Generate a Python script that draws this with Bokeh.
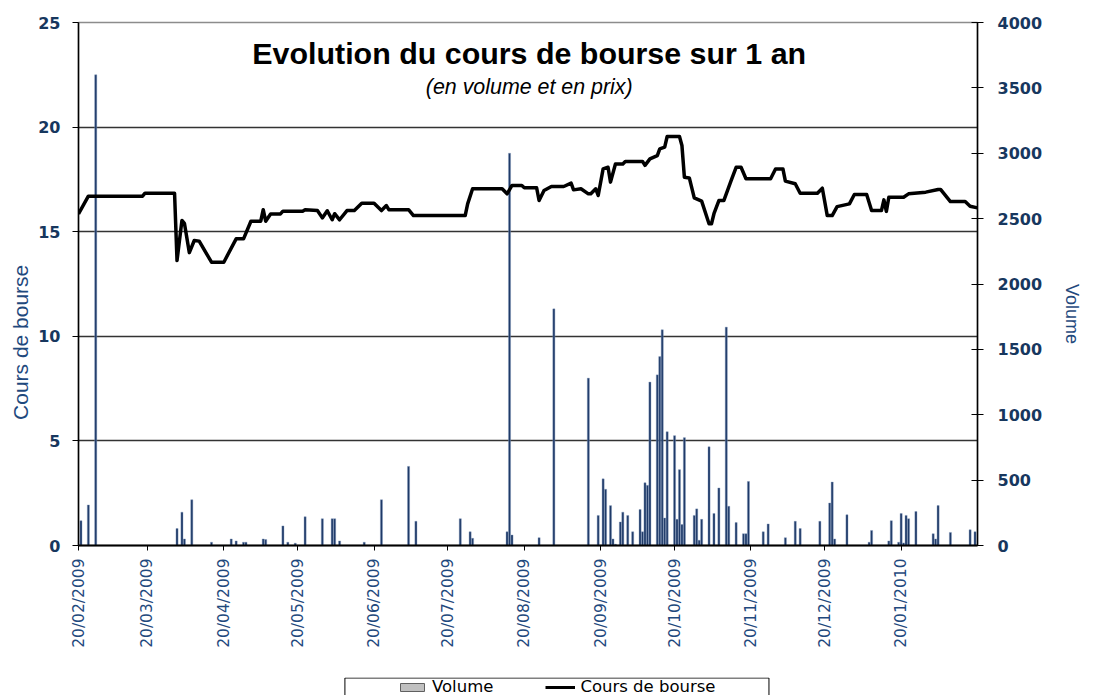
import math
import pandas as pd
from bokeh.plotting import figure
from bokeh.layouts import column
from bokeh.models import (Range1d, LinearAxis, FixedTicker, DatetimeTickFormatter,
                          Legend, LegendItem, Label, ColumnDataSource)
from bokeh.embed import file_html
from bokeh.resources import INLINE

# ---------------- data ----------------
price_dates = [
    "2009-02-20", "2009-02-24", "2009-03-18", "2009-03-19", "2009-03-31", "2009-04-01",
    "2009-04-03", "2009-04-04", "2009-04-06", "2009-04-08", "2009-04-10", "2009-04-15",
    "2009-04-20", "2009-04-25", "2009-04-28", "2009-05-01", "2009-05-05", "2009-05-06",
    "2009-05-07", "2009-05-09", "2009-05-13", "2009-05-14", "2009-05-22", "2009-05-23",
    "2009-05-28", "2009-05-30", "2009-06-01", "2009-06-03", "2009-06-04", "2009-06-06",
    "2009-06-09", "2009-06-12", "2009-06-15", "2009-06-20", "2009-06-23", "2009-06-25",
    "2009-06-26", "2009-07-04", "2009-07-06", "2009-07-27", "2009-07-28", "2009-07-30",
    "2009-08-11", "2009-08-13", "2009-08-15", "2009-08-19", "2009-08-20", "2009-08-25",
    "2009-08-26", "2009-08-28", "2009-08-31", "2009-09-05", "2009-09-08", "2009-09-09",
    "2009-09-12", "2009-09-15", "2009-09-16", "2009-09-18", "2009-09-19", "2009-09-21",
    "2009-09-23", "2009-09-24", "2009-09-26", "2009-09-29", "2009-09-30", "2009-10-07",
    "2009-10-08", "2009-10-10", "2009-10-13", "2009-10-14", "2009-10-16", "2009-10-17",
    "2009-10-22", "2009-10-23", "2009-10-24", "2009-10-26", "2009-10-28", "2009-10-31",
    "2009-11-03", "2009-11-04", "2009-11-05", "2009-11-07", "2009-11-09", "2009-11-12",
    "2009-11-14", "2009-11-16", "2009-11-18", "2009-11-28", "2009-11-30", "2009-12-03",
    "2009-12-04", "2009-12-08", "2009-12-10", "2009-12-17", "2009-12-19", "2009-12-21",
    "2009-12-23", "2009-12-25", "2009-12-30", "2010-01-01", "2010-01-06", "2010-01-08",
    "2010-01-12", "2010-01-13", "2010-01-14", "2010-01-15", "2010-01-21", "2010-01-23",
    "2010-01-30", "2010-02-04", "2010-02-05", "2010-02-09", "2010-02-15", "2010-02-17",
    "2010-02-20",
]
price_values = [
    15.85, 16.70, 16.70, 16.84, 16.84, 13.62,
    15.54, 15.40, 14.00, 14.58, 14.55, 13.54,
    13.54, 14.66, 14.66, 15.50, 15.50, 16.05,
    15.50, 15.85, 15.85, 15.98, 15.98, 16.05,
    16.01, 15.66, 16.00, 15.57, 15.86, 15.57,
    16.01, 16.01, 16.36, 16.36, 16.01, 16.25,
    16.05, 16.05, 15.77, 15.77, 16.33, 17.05,
    17.05, 16.81, 17.21, 17.21, 17.10, 17.10,
    16.49, 16.97, 17.16, 17.16, 17.32, 17.00,
    17.05, 16.81, 16.81, 17.05, 16.73, 18.00,
    18.08, 17.37, 18.24, 18.24, 18.36, 18.36,
    18.17, 18.48, 18.64, 18.96, 19.04, 19.55,
    19.55, 19.12, 17.60, 17.57, 16.62, 16.46,
    15.38, 15.38, 15.86, 16.49, 16.49, 17.45,
    18.08, 18.08, 17.53, 17.53, 18.00, 18.00,
    17.42, 17.29, 16.84, 16.84, 17.08, 15.77,
    15.77, 16.20, 16.33, 16.78, 16.78, 16.01,
    16.01, 16.52, 15.97, 16.65, 16.65, 16.81,
    16.89, 17.02, 17.02, 16.44, 16.44, 16.22,
    16.14,
]

volume_dates = [
    "2009-02-21", "2009-02-24", "2009-02-27", "2009-04-01", "2009-04-03", "2009-04-04",
    "2009-04-07", "2009-04-15", "2009-04-23", "2009-04-25", "2009-04-28", "2009-04-29",
    "2009-05-06", "2009-05-07", "2009-05-14", "2009-05-16", "2009-05-19", "2009-05-23",
    "2009-05-30", "2009-06-03", "2009-06-04", "2009-06-06", "2009-06-16", "2009-06-23",
    "2009-07-04", "2009-07-07", "2009-07-25", "2009-07-29", "2009-07-30", "2009-08-13",
    "2009-08-14", "2009-08-15", "2009-08-26", "2009-09-01", "2009-09-15", "2009-09-19",
    "2009-09-21", "2009-09-22", "2009-09-24", "2009-09-25", "2009-09-26", "2009-09-28",
    "2009-09-29", "2009-10-01", "2009-10-03", "2009-10-06", "2009-10-07", "2009-10-08",
    "2009-10-09", "2009-10-10", "2009-10-13", "2009-10-14", "2009-10-15", "2009-10-16",
    "2009-10-17", "2009-10-20", "2009-10-21", "2009-10-22", "2009-10-23", "2009-10-24",
    "2009-10-28", "2009-10-29", "2009-10-30", "2009-10-31", "2009-11-03", "2009-11-05",
    "2009-11-07", "2009-11-10", "2009-11-11", "2009-11-14", "2009-11-17", "2009-11-18",
    "2009-11-19", "2009-11-25", "2009-11-27", "2009-12-04", "2009-12-08", "2009-12-10",
    "2009-12-18", "2009-12-22", "2009-12-23", "2009-12-24", "2009-12-29", "2010-01-07",
    "2010-01-08", "2010-01-15", "2010-01-16", "2010-01-19", "2010-01-20", "2010-01-21",
    "2010-01-22", "2010-01-23", "2010-01-26", "2010-02-02", "2010-02-03", "2010-02-04",
    "2010-02-09", "2010-02-17", "2010-02-19",
]
volume_values = [
    190, 310, 3600, 130, 255, 50,
    350, 25, 50, 35, 25, 25,
    50, 45, 150, 25, 18, 220,
    205, 205, 205, 35, 25, 350,
    605, 185, 205, 105, 55, 105,
    3000, 80, 60, 1810, 1280, 230,
    510, 430, 305, 50, 10, 180,
    255, 230, 105, 275, 105, 480,
    460, 1250, 1305, 1445, 1650, 210,
    870, 840, 200, 580, 160, 825,
    230, 280, 40, 200, 755, 245,
    440, 1670, 300, 175, 90, 90,
    490, 105, 165, 60, 185, 130,
    185, 325, 485, 50, 235, 25,
    115, 35, 190, 25, 245, 20,
    230, 205, 260, 90, 50, 305,
    100, 120, 105,
]

tick_dates = ["2009-02-20", "2009-03-20", "2009-04-20", "2009-05-20", "2009-06-20",
              "2009-07-20", "2009-08-20", "2009-09-20", "2009-10-20", "2009-11-20",
              "2009-12-20", "2010-01-20"]
price_ticks = [0, 5, 10, 15, 20, 25]
volume_ticks = [0, 500, 1000, 1500, 2000, 2500, 3000, 3500, 4000]

title_text = "Evolution du cours de bourse sur 1 an"
subtitle_text = "(en volume et en prix)"
left_title = "Cours de bourse"
right_title = "Volume"
legend_labels = ["Volume", "Cours de bourse"]


def ms(d):
    return pd.Timestamp(d).value / 1e6


DAY = 86400000.0
TICK_BLUE = "#17375E"
LABEL_BLUE = "#1F497D"
NBSP = "\u00a0"
BORDER_L, BORDER_R = 78, 116

p = figure(width=1095, height=677, x_axis_type="datetime", output_backend="svg",
           toolbar_location=None,
           x_range=Range1d(ms("2009-02-20"), ms("2010-02-20")),
           y_range=Range1d(0, 25),
           min_border_left=BORDER_L, min_border_right=BORDER_R,
           min_border_top=22, min_border_bottom=132)
p.extra_y_ranges = {"vol": Range1d(0, 4000)}
p.background_fill_color = "white"
p.border_fill_color = "white"
p.outline_line_color = "#8C8C8C"
p.outline_line_width = 1.5

# grid
p.xgrid.visible = False
p.ygrid.ticker = FixedTicker(ticks=[5, 10, 15, 20])
p.ygrid.grid_line_color = "#333333"
p.ygrid.grid_line_width = 1.3

# volume bars
vsrc = ColumnDataSource(dict(x=pd.to_datetime(volume_dates), top=volume_values))
p.vbar(x="x", top="top", width=0.85 * DAY, source=vsrc, y_range_name="vol",
       fill_color="#1F3A68", line_color="#8198BA", line_width=0.4)

# price line
psrc = ColumnDataSource(dict(x=pd.to_datetime(price_dates), y=price_values))
p.line(x="x", y="y", source=psrc, line_color="black", line_width=3.5, line_join="round")

# x axis
xa = p.xaxis[0]
xa.ticker = FixedTicker(ticks=[ms(d) for d in tick_dates])
fmt = "%d/%m/%Y"
xa.formatter = DatetimeTickFormatter(microseconds=fmt, milliseconds=fmt, seconds=fmt,
                                     minsec=fmt, minutes=fmt, hourmin=fmt, hours=fmt,
                                     days=fmt, months=fmt, years=fmt)
xa.major_label_orientation = math.pi / 2
xa.major_label_text_font = "DejaVu Sans"
xa.major_label_text_font_size = "15.5px"
xa.major_label_text_color = LABEL_BLUE
xa.major_label_standoff = 8
xa.axis_line_color = "black"
xa.axis_line_width = 2
xa.major_tick_line_color = "black"
xa.major_tick_out = 5
xa.major_tick_in = 0
xa.minor_tick_line_color = None

# left axis
ya = p.yaxis[0]
ya.ticker = FixedTicker(ticks=price_ticks)
ya.major_label_text_font = "DejaVu Sans"
ya.major_label_text_font_style = "bold"
ya.major_label_text_font_size = "16px"
ya.major_label_text_color = TICK_BLUE
ya.major_label_standoff = 12
ya.axis_line_color = "black"
ya.axis_line_width = 1.5
ya.major_tick_line_color = "black"
ya.major_tick_out = 6
ya.major_tick_in = 0
ya.minor_tick_line_color = None
# trailing no-break spaces move the visible title lower along the axis, as in the original
ya.axis_label = left_title + NBSP * 20
ya.axis_label_text_font = "Liberation Sans"
ya.axis_label_text_font_style = "normal"
ya.axis_label_text_font_size = "21px"
ya.axis_label_text_color = LABEL_BLUE
ya.axis_label_standoff = 3

# right axis
ra = LinearAxis(y_range_name="vol", ticker=FixedTicker(ticks=volume_ticks))
ra.major_label_text_font = "DejaVu Sans"
ra.major_label_text_font_style = "bold"
ra.major_label_text_font_size = "16px"
ra.major_label_text_color = TICK_BLUE
ra.major_label_standoff = 14
ra.axis_line_color = "black"
ra.axis_line_width = 1.5
ra.major_tick_line_color = "black"
ra.major_tick_out = 6
ra.major_tick_in = 6
ra.minor_tick_line_color = None
try:
    ra.axis_label_orientation = -math.pi / 2
    ra.axis_label = right_title + NBSP * 14
except Exception:
    ra.axis_label = NBSP * 14 + right_title
ra.axis_label_text_font = "Liberation Sans"
ra.axis_label_text_font_style = "normal"
ra.axis_label_text_font_size = "18px"
ra.axis_label_text_color = LABEL_BLUE
ra.axis_label_standoff = 27
p.add_layout(ra, "right")

# title & subtitle inside the plot area
p.add_layout(Label(x=ms("2009-08-22"), y=23.52, text=title_text, text_align="center",
                   text_baseline="middle", text_font="Liberation Sans",
                   text_font_style="bold", text_font_size="30.4px", text_color="black"))
p.add_layout(Label(x=ms("2009-08-22"), y=21.94, text=subtitle_text, text_align="center",
                   text_baseline="middle", text_font="Liberation Sans",
                   text_font_style="italic", text_font_size="21.4px", text_color="black"))

# ---------------- legend strip (frame aligned with the chart, 1 unit = 1 px) ----------------
q = figure(width=1095, height=18, output_backend="svg", toolbar_location=None,
           x_range=Range1d(BORDER_L, 1095 - BORDER_R), y_range=Range1d(0, 18),
           x_axis_location=None, y_axis_location=None,
           min_border_left=BORDER_L, min_border_right=BORDER_R,
           min_border_top=0, min_border_bottom=0)
q.grid.visible = False
q.outline_line_color = None
q.background_fill_color = "white"
q.border_fill_color = "white"
# legend frame
q.quad(left=[345], right=[770], top=[17.5], bottom=[-5], fill_color="white",
       line_color="black", line_width=1)
# legend sample renderers (their data lies outside the visible range)
sw = q.vbar(x=[-500], top=[-500], bottom=[-501], width=1,
            fill_color="#C0C0C0", line_color="#606060")
ln = q.line(x=[-500, -499], y=[-500, -500], line_color="black", line_width=3)
legend = Legend(items=[LegendItem(label=legend_labels[0], renderers=[sw]),
                       LegendItem(label=legend_labels[1], renderers=[ln])],
                orientation="horizontal", location=(397 - BORDER_L, -1),
                padding=0, spacing=52, glyph_width=30, glyph_height=10,
                label_standoff=5, label_text_font="DejaVu Sans",
                label_text_font_size="16.5px", label_text_color="black",
                label_text_baseline="middle",
                border_line_color=None, background_fill_alpha=0.0, margin=0)
q.add_layout(legend, "center")

layout = column(p, q, spacing=0)
open("out.html", "w").write(file_html(layout, INLINE))
